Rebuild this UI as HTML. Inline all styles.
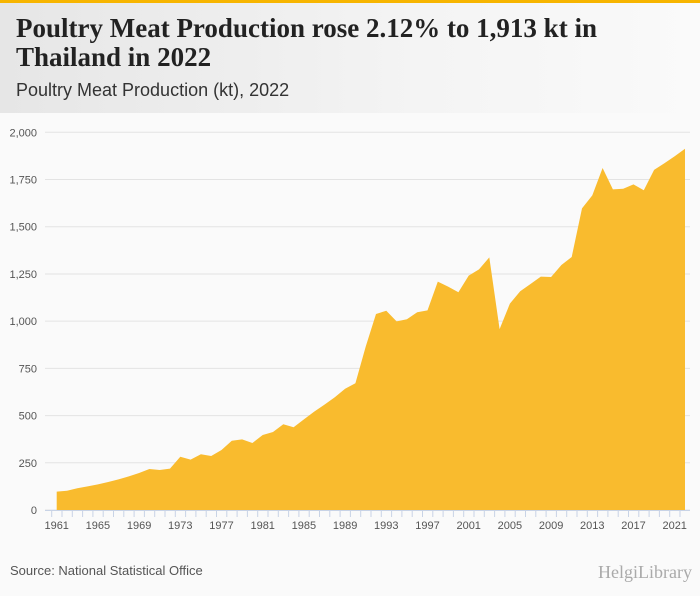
<!DOCTYPE html>
<html><head><meta charset="utf-8"><style>
body{margin:0;width:700px;height:596px;overflow:hidden;font-family:"Liberation Sans",sans-serif;background:#fafafa}
#hdr{position:absolute;left:0;top:0;width:700px;height:113px;background:linear-gradient(90deg,#e6e6e6,#f4f4f4 60%,#fafafa)}
#bar{position:absolute;left:0;top:0;width:700px;height:3px;background:#f7b500}
#title{position:absolute;left:16px;top:14px;width:610px;font-family:"Liberation Serif",serif;font-weight:bold;font-size:27px;line-height:29px;color:#222}
#sub{position:absolute;left:16px;top:80px;font-size:18px;color:#333}
#src{position:absolute;left:10px;top:563px;font-size:13px;color:#555}
#logo{position:absolute;left:598px;top:562px;font-size:18px;color:#aaa;font-family:"Liberation Serif",serif}
svg{position:absolute;left:0;top:0}
</style></head><body>
<div id="hdr"></div>
<div id="bar"></div>
<div id="title">Poultry Meat Production rose 2.12% to 1,913 kt in Thailand in 2022</div>
<div id="sub">Poultry Meat Production (kt), 2022</div>
<svg id="chart" width="700" height="596"></svg>
<div id="src">Source: National Statistical Office</div>
<div id="logo">HelgiLibrary</div>
<script>
const years=[];for(let y=1961;y<=2022;y++)years.push(y);
const values=[97,102,115,125,136,148,162,178,196,217,212,219,282,267,295,286,318,367,374,355,397,413,454,438,480,521,558,597,642,671,865,1038,1055,999,1010,1047,1057,1209,1183,1153,1241,1274,1338,958,1093,1158,1197,1236,1234,1297,1340,1597,1666,1811,1698,1701,1724,1693,1801,1836,1873,1913];
const yTicks=[0,250,500,750,1000,1250,1500,1750,2000];
const yTickLabels=["0","250","500","750","1,000","1,250","1,500","1,750","2,000"];
const NS="http://www.w3.org/2000/svg",svg=document.getElementById('chart');
const X=i=>56.7+i*(628.3/61), Y=v=>510-v*(377.7/2000);
function mk(t,a){const e=document.createElementNS(NS,t);for(const k in a)e.setAttribute(k,a[k]);svg.appendChild(e);return e;}
yTicks.forEach((v,i)=>{
 const g=mk('line',{x1:45,x2:690,y1:Y(v),y2:Y(v),stroke:'#e3e3e3','stroke-width':1});
 
 
 const t=mk('text',{x:37,y:Y(v)+4,'text-anchor':'end','font-size':11,fill:'#555','font-family':'Liberation Sans'});
 t.textContent=yTickLabels[i];
 
 
});
let d='M'+X(0)+','+Y(0);
values.forEach((v,i)=>d+=' L'+X(i)+','+Y(v));
d+=' L'+X(values.length-1)+','+Y(0)+' Z';
const a=mk('path',{d:d,fill:'#f9bb2e'});


const ax=mk('line',{x1:45,x2:690,y1:510.5,y2:510.5,stroke:'#c8d3e6'});


years.forEach((y,i)=>{
 const tk=mk('line',{x1:X(i)-5,x2:X(i)-5,y1:510,y2:517,stroke:'#c8d3e6'});
 
 
 if((y-1961)%4===0){
  const t=mk('text',{x:X(i),y:529,'text-anchor':'middle','font-size':11,fill:'#555','font-family':'Liberation Sans'});
  t.textContent=y;
  
  
 }
});
</script>
</body></html>
